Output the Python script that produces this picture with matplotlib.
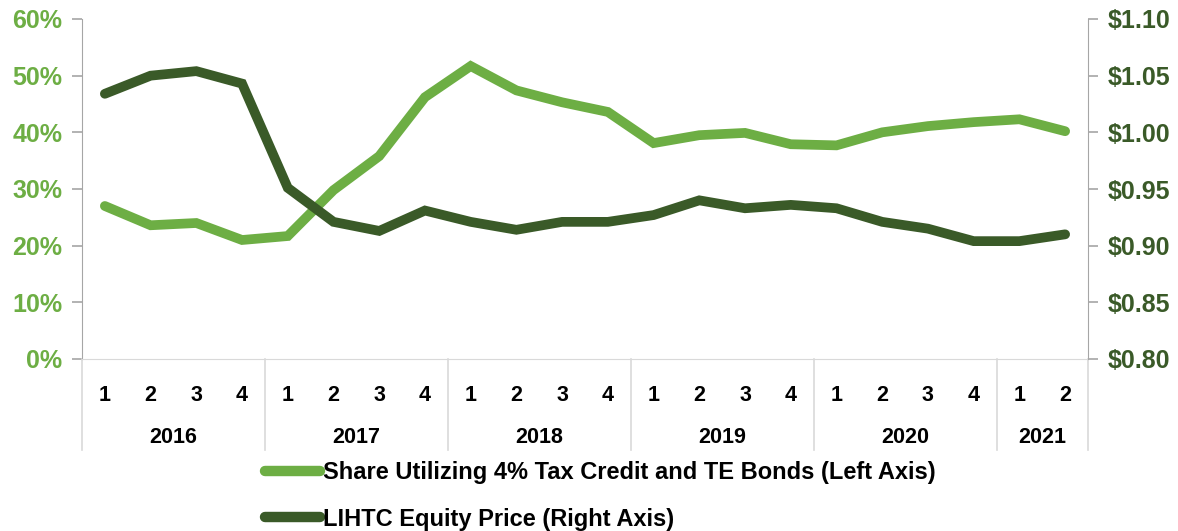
import matplotlib
matplotlib.use("Agg")
import matplotlib.pyplot as plt
from matplotlib.lines import Line2D
from matplotlib.ticker import FuncFormatter, MultipleLocator

plt.rcParams['font.family'] = ['Liberation Sans', 'DejaVu Sans']
plt.rcParams['font.weight'] = 'bold'

years = ['2016', '2017', '2018', '2019', '2020', '2021']
quarters = ['1', '2', '3', '4'] * 5 + ['1', '2']

# share of LIHTC deals using 4% credit + tax-exempt bonds (%)
share_4pct = [27.0, 23.6, 24.0, 21.0, 21.7, 29.8, 35.8, 46.2,
              51.7, 47.4, 45.3, 43.6, 38.1, 39.5, 39.9, 37.9,
              37.7, 40.0, 41.1, 41.8, 42.3, 40.2]
# LIHTC equity price ($ per credit)
equity_price = [1.034, 1.050, 1.054, 1.043, 0.951, 0.921, 0.913, 0.931,
                0.921, 0.914, 0.921, 0.921, 0.927, 0.940, 0.933, 0.936,
                0.933, 0.921, 0.915, 0.904, 0.904, 0.910]

light = '#6DAE44'
dark = '#3A5A28'
grey = '#A6A6A6'

fig = plt.figure(figsize=(11.78, 5.31), dpi=100)
ax = fig.add_axes([82 / 1178, 1 - 359 / 531, 1006 / 1178, 340 / 531])
ax2 = ax.twinx()

x = list(range(len(quarters)))
ax.plot(x, share_4pct, color=light, lw=7, solid_capstyle='round',
        solid_joinstyle='miter', zorder=3)
ax2.plot(x, equity_price, color=dark, lw=7, solid_capstyle='round',
         solid_joinstyle='miter', zorder=3)

ax.set_xlim(-0.5, len(quarters) - 0.5)
ax.set_ylim(0, 60)
ax2.set_ylim(0.80, 1.10)
ax.yaxis.set_major_locator(MultipleLocator(10))
ax2.yaxis.set_major_locator(MultipleLocator(0.05))
ax.yaxis.set_major_formatter(FuncFormatter(lambda v, p: f'{v:.0f}%'))
ax2.yaxis.set_major_formatter(FuncFormatter(lambda v, p: f'${v:.2f}'))

for a in (ax, ax2):
    for s in a.spines.values():
        s.set_visible(False)
ax.spines['left'].set_visible(True)
ax.spines['left'].set_color(grey)
ax2.spines['right'].set_visible(True)
ax2.spines['right'].set_color(grey)
ax.spines['bottom'].set_visible(True)
ax.spines['bottom'].set_color('#D9D9D9')

ax.tick_params(axis='y', colors=grey, labelcolor=light, labelsize=18,
               length=7, width=1.2, pad=7)
ax2.tick_params(axis='y', colors=grey, labelcolor=dark, labelsize=18,
                length=7, width=1.2, pad=7)

# quarter labels on the ticks, years underneath
ax.set_xticks(x)
ax.set_xticklabels(quarters)
ax.tick_params(axis='x', length=0, labelsize=15.5, pad=19, labelcolor='black')

trans = ax.get_xaxis_transform()
year_len = [4, 4, 4, 4, 4, 2]
start = 0
bounds = [-0.5]
for yr, n in zip(years, year_len):
    mid = start + (n - 1) / 2
    ax.text(mid, -0.23, yr, transform=trans, ha='center', va='center',
            fontsize=15.5, fontweight='bold', color='black')
    start += n
    bounds.append(start - 0.5)
for b in bounds:
    ax.plot([b, b], [0, -0.268], transform=trans, color='#D9D9D9', lw=1.2,
            clip_on=False)

handles = [Line2D([], [], color=light, lw=7.5, solid_capstyle='round'),
           Line2D([], [], color=dark, lw=7.5, solid_capstyle='round')]
labels = ['Share Utilizing 4% Tax Credit and TE Bonds (Left Axis)',
          'LIHTC Equity Price (Right Axis)']
fig.legend(handles, labels, loc='upper left',
           bbox_to_anchor=(265 / 1178, 1 - 461 / 531), frameon=False,
           borderpad=0, borderaxespad=0, handlelength=2.35, handletextpad=0.12,
           labelspacing=1.0, prop={'size': 17, 'weight': 'bold'})

fig.savefig('out.png', dpi=100)
